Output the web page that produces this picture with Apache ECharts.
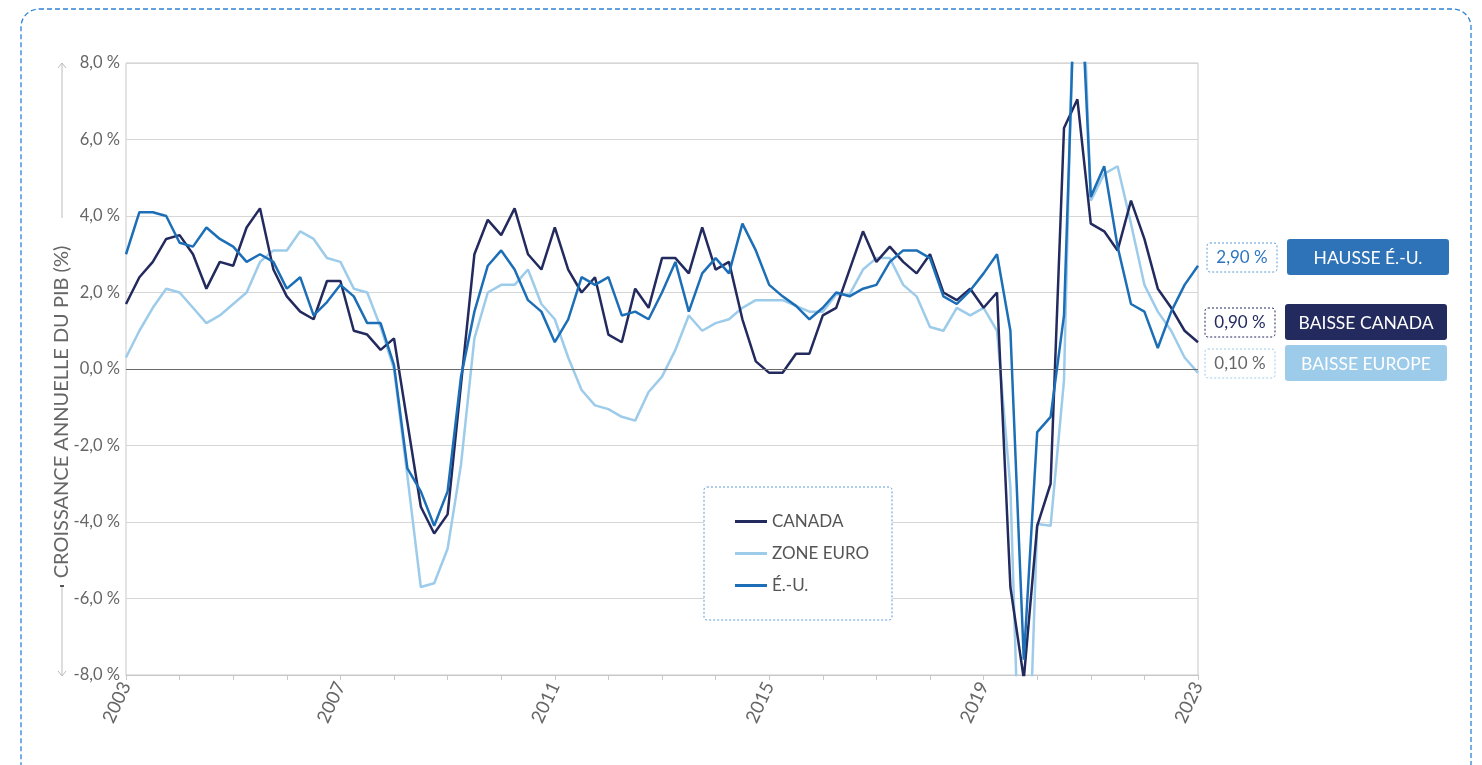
<!DOCTYPE html>
<html>
<head>
<meta charset="utf-8">
<script src="https://cdn.jsdelivr.net/npm/echarts@6/dist/echarts.min.js"></script>
<style>
  html, body { margin: 0; padding: 0; background: #fff; }
  #chart { width: 1482px; height: 765px; }
</style>
</head>
<body>
<div id="chart"></div>
<script>
// data =====================================================================================================
var years = [2003, 2004, 2005, 2006, 2007, 2008, 2009, 2010, 2011, 2012, 2013,
             2014, 2015, 2016, 2017, 2018, 2019, 2020, 2021, 2022, 2023];
var quarterNames = ['T1', 'T2', 'T3', 'T4'];
var quarters = [];
for (var y = 0; y < years.length; y++) {
    for (var q = 0; q < 4; q++) {
        if (years[y] === 2023 && q > 0) break;
        quarters.push(years[y] + '-' + quarterNames[q]);
    }
}

var canada = [1.7, 2.4, 2.8, 3.4, 3.5, 3.0, 2.1, 2.8, 2.7, 3.7, 4.2, 2.6, 1.9, 1.5, 1.3, 2.3,
              2.3, 1.0, 0.9, 0.5, 0.8, -1.4, -3.6, -4.3, -3.8, -0.4, 3.0, 3.9, 3.5, 4.2, 3.0, 2.6,
              3.7, 2.6, 2.0, 2.4, 0.9, 0.7, 2.1, 1.6, 2.9, 2.9, 2.5, 3.7, 2.6, 2.8, 1.3, 0.2,
              -0.1, -0.1, 0.4, 0.4, 1.4, 1.6, 2.6, 3.6, 2.8, 3.2, 2.8, 2.5, 3.0, 2.0, 1.8, 2.1,
              1.6, 2.0, -5.7, -8.1, -4.1, -3.0, 6.3, 7.05, 3.8, 3.6, 3.1, 4.4, 3.4, 2.1, 1.6, 1.0,
              0.7];
var zoneEuro = [0.3, 1.0, 1.6, 2.1, 2.0, 1.6, 1.2, 1.4, 1.7, 2.0, 2.8, 3.1, 3.1, 3.6, 3.4, 2.9,
                2.8, 2.1, 2.0, 1.1, 0.0, -2.8, -5.7, -5.6, -4.7, -2.5, 0.8, 2.0, 2.2, 2.2, 2.6, 1.7,
                1.3, 0.3, -0.55, -0.95, -1.05, -1.25, -1.35, -0.6, -0.2, 0.5, 1.4, 1.0, 1.2, 1.3, 1.6, 1.8,
                1.8, 1.8, 1.65, 1.5, 1.5, 1.95, 1.95, 2.6, 2.9, 2.9, 2.2, 1.9, 1.1, 1.0, 1.6, 1.4,
                1.6, 1.0, -3.1, -14.5, -4.05, -4.1, -0.3, 14.2, 4.4, 5.1, 5.3, 3.8, 2.2, 1.5, 1.0, 0.3,
                -0.1];
var eu = [3.0, 4.1, 4.1, 4.0, 3.3, 3.2, 3.7, 3.4, 3.2, 2.8, 3.0, 2.8, 2.1, 2.4, 1.4, 1.75,
          2.2, 1.9, 1.2, 1.2, 0.1, -2.6, -3.2, -4.1, -3.2, -0.2, 1.5, 2.7, 3.1, 2.6, 1.8, 1.5,
          0.7, 1.3, 2.4, 2.2, 2.4, 1.4, 1.5, 1.3, 2.0, 2.8, 1.5, 2.5, 2.9, 2.5, 3.8, 3.1,
          2.2, 1.9, 1.65, 1.3, 1.6, 2.0, 1.9, 2.1, 2.2, 2.8, 3.1, 3.1, 2.9, 1.9, 1.7, 2.05,
          2.5, 3.0, 1.0, -7.6, -1.65, -1.25, 1.4, 12.2, 4.5, 5.3, 3.2, 1.7, 1.5, 0.55, 1.5, 2.2,
          2.7];

var seriesNames = ['CANADA', 'ZONE EURO', 'É.-U.'];
var seriesColors = ['#222a5e', '#9dcbea', '#1c6fb6'];

var tagValues = ['2,90 %', '0,90 %', '0,10 %'];
var tagLabels = ['HAUSSE É.-U.', 'BAISSE CANADA', 'BAISSE EUROPE'];

var FONT = 'Lato';
var GREY = '#666666';

// helpers ==================================================================================================
function pct(v) {
    return v.toFixed(1).replace('.', ',') + ' %';
}

function tag(x, y, valueText, valueColor, borderColor, label, fill) {
    return [
        {type: 'rect', shape: {x: x, y: y + 4, width: 70, height: 29, r: 3},
         style: {fill: '#fff', stroke: borderColor, lineWidth: 1, lineDash: [2, 2]}},
        {type: 'text', x: x + 35, y: y + 19,
         style: {text: valueText, fill: valueColor, font: '17px ' + FONT, align: 'center', verticalAlign: 'middle'}},
        {type: 'rect', shape: {x: x + 80, y: y, width: 162, height: 36, r: 3},
         style: {fill: fill}},
        {type: 'text', x: x + 161, y: y + 19,
         style: {text: label, fill: '#fff', font: '17.5px ' + FONT, align: 'center', verticalAlign: 'middle'}}
    ];
}

// chart ====================================================================================================
var myChart = echarts.init(document.getElementById('chart'));

var graphics = [
    // outer dashed frame
    {type: 'rect', shape: {x: 21, y: 9, width: 1450, height: 790, r: 18},
     style: {fill: 'none', stroke: '#2f83d6', lineWidth: 1.3, lineDash: [5, 3]}},
    // legend box
    {type: 'rect', shape: {x: 704, y: 487, width: 188, height: 133, r: 3},
     style: {fill: '#fff', stroke: '#5b9bd5', lineWidth: 1, lineDash: [2, 2]}, z: 5},
    // y axis title + arrows
    {type: 'text', x: 62, y: 412, rotation: Math.PI / 2,
     style: {text: 'CROISSANCE ANNUELLE DU PIB (%)', fill: GREY, font: '20px ' + FONT,
             align: 'center', verticalAlign: 'middle'}},
    {type: 'polyline', shape: {points: [[62, 218], [62, 63]]}, style: {stroke: '#bbbbbb', lineWidth: 1}},
    {type: 'polyline', shape: {points: [[58, 68], [62, 63], [66, 68]]}, style: {stroke: '#bbbbbb', fill: 'none', lineWidth: 1}},
    {type: 'polyline', shape: {points: [[62, 587], [62, 676]]}, style: {stroke: '#bbbbbb', lineWidth: 1}},
    {type: 'polyline', shape: {points: [[58, 671], [62, 676], [66, 671]]}, style: {stroke: '#bbbbbb', fill: 'none', lineWidth: 1}},
    {type: 'rect', shape: {x: 60, y: 585, width: 4, height: 2}, style: {fill: '#555'}}
];
graphics = graphics
    .concat(tag(1207, 239, tagValues[0], '#2e75c0', '#5b9bd5', tagLabels[0], '#2e72b8'))
    .concat(tag(1205, 304, tagValues[1], '#222a5e', '#222a5e', tagLabels[1], '#222a5e'))
    .concat(tag(1205, 345, tagValues[2], GREY, '#9dcbea', tagLabels[2], '#9dcbea'));

function lineSeries(idx, data) {
    return {
        name: seriesNames[idx],
        type: 'line',
        data: data,
        symbol: 'none',
        clip: true,
        lineStyle: {width: 2.5, color: seriesColors[idx]},
        itemStyle: {color: seriesColors[idx]},
        z: 3 + idx
    };
}

var s0 = lineSeries(0, canada);
var s1 = lineSeries(1, zoneEuro);
var s2 = lineSeries(2, eu);
s1.z = 2;
// zero line
s1.markLine = {
    silent: true, symbol: 'none', label: {show: false},
    lineStyle: {color: '#6a6a6a', width: 1, type: 'solid'},
    data: [{yAxis: 0}]
};

var option = {
    backgroundColor: '#ffffff',
    animation: false,
    textStyle: {fontFamily: FONT},
    grid: {left: 126, right: 284, top: 63, bottom: 90, show: true, borderColor: '#c8c8c8', borderWidth: 1},
    legend: {
        orient: 'vertical',
        left: 730, top: 508,
        icon: 'rect',
        itemWidth: 32, itemHeight: 3, itemGap: 15,
        data: seriesNames,
        textStyle: {color: '#555', fontSize: 17, fontFamily: FONT},
        z: 10
    },
    xAxis: {
        type: 'category',
        data: quarters,
        boundaryGap: false,
        axisLine: {onZero: false, lineStyle: {color: '#c8c8c8'}},
        axisTick: {show: true, interval: 3, length: 5, lineStyle: {color: '#c8c8c8'}},
        axisLabel: {
            interval: 15, rotate: 65, margin: 8,
            color: GREY, fontSize: 18.5, fontFamily: FONT,
            formatter: function (v) { return v.split('-')[0]; }
        },
        splitLine: {show: false}
    },
    yAxis: {
        type: 'value',
        min: -8, max: 8, interval: 2,
        axisLine: {show: false},
        axisTick: {show: false},
        axisLabel: {color: GREY, fontSize: 16.5, fontFamily: FONT, margin: 6, formatter: pct},
        splitLine: {lineStyle: {color: '#d6d6d6', width: 1}}
    },
    graphic: graphics,
    series: [s0, s1, s2]
};

myChart.setOption(option);
</script>
</body>
</html>
